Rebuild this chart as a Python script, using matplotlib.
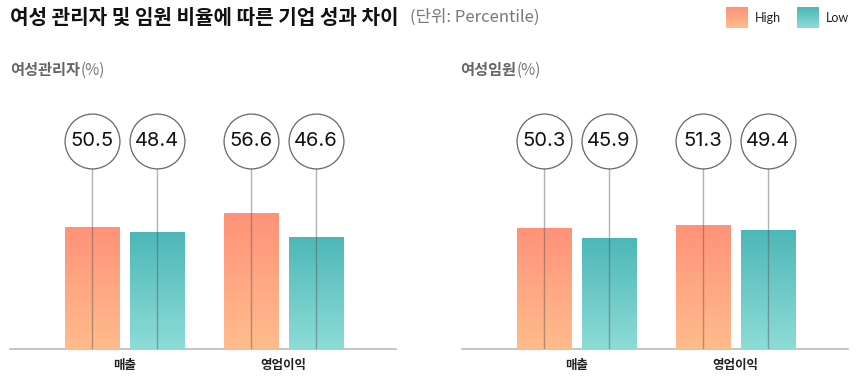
import numpy as np
import matplotlib.pyplot as plt
from matplotlib.colors import LinearSegmentedColormap

plt.rcParams['font.family'] = ['Noto Sans CJK KR', 'DejaVu Sans']

categories = ['매출', '영업이익']
panels = ['여성관리자', '여성임원']
high_vals = [[50.5, 56.6], [50.3, 51.3]]
low_vals = [[48.4, 46.6], [45.9, 49.4]]

high_cmap = LinearSegmentedColormap.from_list('high', ['#FFBC8C', '#FF9279'])
low_cmap = LinearSegmentedColormap.from_list('low', ['#8DDCD7', '#4DB7B7'])

W, H = 857, 391
fig = plt.figure(figsize=(W / 100, H / 100), dpi=100)


def px(x0, y0, w, h):
    # pixel box (top-left origin) -> figure fraction
    return [x0 / W, 1 - (y0 + h) / H, w / W, h / H]


grad = np.linspace(0, 1, 256).reshape(-1, 1)


def gradient_bars(ax, bars, cmap):
    for b in bars:
        x, y = b.get_x(), b.get_y()
        w, h = b.get_width(), b.get_height()
        im = ax.imshow(grad, cmap=cmap, aspect='auto', origin='lower',
                       extent=(x, x + w, y, y + h), zorder=2)
        im.set_clip_path(b)


bw = 0.34
off = 0.205
circle_y = 86.3
axes_boxes = [px(10, 108, 386, 241), px(462, 108, 386, 241)]

for i, name in enumerate(panels):
    ax = fig.add_axes(axes_boxes[i])
    xs = np.arange(len(categories))
    hb = ax.bar(xs - off, high_vals[i], bw, color='none', edgecolor='none')
    lb = ax.bar(xs + off, low_vals[i], bw, color='none', edgecolor='none')
    gradient_bars(ax, hb, high_cmap)
    gradient_bars(ax, lb, low_cmap)

    for xx, vals in [(xs - off, high_vals[i]), (xs + off, low_vals[i])]:
        for x, v in zip(xx, vals):
            ax.plot([x, x], [0, circle_y], color='#555555', alpha=0.45, lw=1, zorder=3)
            ax.scatter([x], [circle_y], s=1560, facecolor='white', edgecolor='#666666',
                       linewidth=0.9, zorder=4, clip_on=False)
            ax.text(x, circle_y, f'{v}', ha='center', va='center', fontsize=14.5,
                    family=['Inter', 'DejaVu Sans'], color='#111111', zorder=5)

    ax.set_xlim(-0.72, 1.71)
    ax.set_ylim(0, 100)
    for s in ['top', 'left', 'right']:
        ax.spines[s].set_visible(False)
    ax.spines['bottom'].set_color('#bbbbbb')
    ax.spines['bottom'].set_linewidth(1.2)
    ax.spines['bottom'].set_zorder(1)
    ax.set_yticks([])
    ax.set_xticks(xs)
    ax.set_xticklabels(categories, fontsize=9, fontweight='black', color='#222222')
    ax.tick_params(axis='x', length=0, pad=7)
    ax.patch.set_visible(False)

    tx = [10, 460][i]
    t = fig.text(tx / W, 1 - 70 / H, name, fontsize=11, fontweight='bold',
                 color='#666666', va='center', ha='left')
    fig.canvas.draw()
    bb = t.get_window_extent()
    fig.text((bb.x1 + 1) / W, 1 - 70 / H, '(%)', fontsize=11, color='#777777',
             va='center', ha='left')

title = fig.text(10 / W, 1 - 17 / H, '여성 관리자 및 임원 비율에 따른 기업 성과 차이',
                 fontsize=14.5, fontweight='black', color='#111111', va='center', ha='left')
fig.canvas.draw()
bb = title.get_window_extent()
fig.text((bb.x1 + 12) / W, 1 - 17 / H, '(단위: Percentile)', fontsize=12,
         color='#777777', va='center', ha='left')

for x0, cmap, label in [(726, high_cmap, 'High'), (797, low_cmap, 'Low')]:
    lax = fig.add_axes(px(x0, 7, 22, 21))
    lax.imshow(grad, cmap=cmap, aspect='auto', origin='lower')
    lax.axis('off')
    fig.text((x0 + 29) / W, 1 - 18 / H, label, fontsize=9, color='#222222',
             va='center', ha='left', family=['Lato', 'DejaVu Sans'])

fig.savefig('out.png', dpi=100)
